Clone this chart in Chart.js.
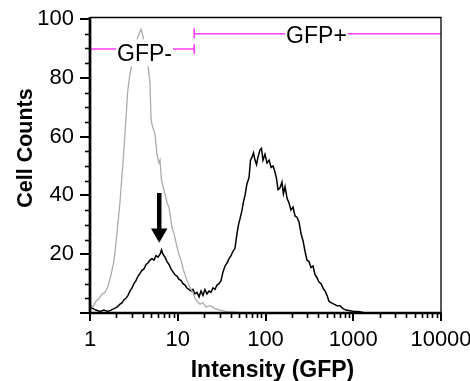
<!DOCTYPE html>
<html><head><meta charset="utf-8">
<script src="https://cdn.jsdelivr.net/npm/chart.js@4/dist/chart.umd.min.js"></script>
<style>html,body{margin:0;padding:0;background:#fff;}#wrap{width:470px;height:381px;}</style>
</head><body><div id="wrap"><canvas id="c" width="470" height="381"></canvas></div>
<script>
// Control (gray) histogram
const grayIntensity = [1.00,1.08,1.17,1.27,1.37,1.48,1.60,1.74,1.88,1.98,2.09,2.20,2.32,2.44,2.57,2.68,2.78,2.93,3.09,3.26,3.43,3.62,3.81,4.02,4.23,4.46,4.64,4.83,4.96,5.09,5.36,5.51,5.80,6.11,6.28,6.53,6.79,7.16,7.54,7.95,8.16,8.60,9.06,9.55,9.81,10.3,10.9,11.5,12.1,12.8,13.4,14.2,14.9,15.7,16.6,17.9,19.4,21.0,23.3,26.6,30.3,36.4,44.9,58.4];
const grayCounts = [3,2,4,5,6.5,7,9,13,18,24,31,38,47,56,66,75,79,83,86,90,93,95,96.5,94,90,85,83,78,66,64,62,60.5,54,51,52,45,43,40.5,37.5,36,34,29,27,24,22.5,20,18,15,13,11,9.5,8,7,5,4,3,3.5,2,2.5,1.5,1,0.5,0.3,0];
// Sample (black) histogram
const blackIntensity = [1.00,1.08,1.17,1.30,1.44,1.60,1.74,1.88,2.03,2.20,2.32,2.44,2.57,2.71,2.86,3.01,3.17,3.34,3.52,3.71,3.91,4.12,4.35,4.58,4.83,5.09,5.36,5.65,5.96,6.28,6.53,6.79,7.15,7.54,7.95,8.38,8.83,9.31,9.81,10.3,10.9,11.5,12.1,12.7,13.4,14.2,14.9,15.7,16.6,17.5,18.4,19.4,20.4,21.5,22.7,23.9,25.2,26.6,28.0,29.5,31.1,32.8,34.6,36.4,38.4,40.5,42.6,44.9,47.3,49.2,51.2,54.0,56.2,58.4,61.5,64.9,67.5,70.2,73.0,75.9,79.0,82.1,86.6,90.0,93.6,98.7,104,110,116,122,128,133,139,146,154,160,167,176,185,195,206,217,229,241,254,268,282,297,313,330,348,367,386,407,429,452,477,502,529,558,603,653,706,764,827,918,1020,1133,1258,1361];
const blackCounts = [2,1.5,1,0.5,1,0.5,1,1.5,2,3,3.5,4.5,5,6,7.5,8.5,10,11,12.5,13.5,14.5,15,16.5,17,18,18.5,18,19.5,19,20,21.5,20,19,17.5,16.5,15,14,13,12.5,11.5,11,10,9.5,8.5,8,7.5,8,6.5,7,5.5,7.5,6,8,6.5,7.5,7,8.5,8,9.5,10,11,14,16,17,18.5,19.5,21,22,27,30,32,35,38,40,44,46,52,53,54.5,52,50.5,53,55.5,56,52,54,51,52,49.5,50,48,46,42,42.5,44.5,40.5,43,39,37.5,35,36,33,32.5,31,27,24.5,21,18,17.5,15.5,16,13,12,10.5,10,8.5,7.5,6,4,3.5,3,2.5,2.5,1.5,1,0.8,0.5,0.5,0.3,0];
// Gates
const gateSplit = 15.4;
const gfpMinusLevel = 89.8;
const gfpPlusLevel = 95.0;
const gfpMinusTick = [88.1, 91.4];
const gfpPlusTick = [93.4, 96.8];
const gateLabels = ['GFP-', 'GFP+'];
const gateLabelX = [4.18, 381];
const gateLabelY = [88.3, 94.4];
// Arrow marker
const arrowX = 6.15;
const arrowShaft = [40.8, 28.5];
const arrowHead = 27.1;
// Axis ticks
const xMin = 1, xMax = 10000;
const yMin = 0, yMax = 100;
const xMajorTicks = [1,10,100,1000,10000];
const xMinorTicks = [2,3,4,5,6,7,8,9,20,30,40,50,60,70,80,90,200,300,400,500,600,700,800,900,2000,3000,4000,5000,6000,7000,8000,9000];
const yMajorTicks = [0,20,40,60,80,100];
const yMinorTicks = [5,10,15,25,30,35,45,50,55,65,70,75,85,90,95];
const xTitle = 'Intensity (GFP)';
const yTitle = 'Cell Counts';

const FONT = "'Liberation Sans', Arial, Helvetica, sans-serif";
const MAGENTA = '#ff3cff';

const pts = (xs, ys) => xs.map((v, i) => ({x: v, y: ys[i]}));

const decor = {
  id: 'decor',
  afterDatasetsDraw(chart) {
    const {ctx, scales: {x, y}} = chart;
    ctx.save();
    ctx.font = '23px ' + FONT;
    ctx.textAlign = 'center';
    ctx.textBaseline = 'alphabetic';
    gateLabels.forEach((t, i) => {
      const px = x.getPixelForValue(gateLabelX[i]);
      const py = y.getPixelForValue(gateLabelY[i]);
      const w = ctx.measureText(t).width;
      ctx.fillStyle = '#fff';
      ctx.fillRect(px - w / 2 - 1, py - 14, w + 2, 27);
      ctx.fillStyle = '#000';
      ctx.fillText(t, px, py + 8);
    });
    ctx.restore();
  },
  afterDraw(chart) {
    const {ctx, chartArea: a, scales: {x, y}} = chart;
    ctx.save();
    ctx.strokeStyle = '#000';
    ctx.lineWidth = 1.3;
    ctx.beginPath();
    ctx.moveTo(a.left, a.top - 1.5); ctx.lineTo(a.right, a.top - 1.5);
    ctx.lineTo(a.right, a.bottom);
    ctx.stroke();
    ctx.lineWidth = 1.6;
    yMinorTicks.forEach(v => {
      const py = Math.round(y.getPixelForValue(v)) + 0.5;
      ctx.beginPath(); ctx.moveTo(a.left - 5, py); ctx.lineTo(a.left, py); ctx.stroke();
    });
    ctx.lineWidth = 2;
    yMajorTicks.forEach(v => {
      const py = Math.round(y.getPixelForValue(v));
      ctx.beginPath(); ctx.moveTo(a.left - 10, py); ctx.lineTo(a.left, py); ctx.stroke();
    });
    ctx.lineWidth = 1.6;
    xMinorTicks.forEach(v => {
      const px = Math.round(x.getPixelForValue(v)) + 0.5;
      ctx.beginPath(); ctx.moveTo(px, a.bottom); ctx.lineTo(px, a.bottom + 5); ctx.stroke();
    });
    ctx.lineWidth = 2;
    xMajorTicks.forEach(v => {
      const px = Math.round(x.getPixelForValue(v));
      ctx.beginPath(); ctx.moveTo(px, a.bottom); ctx.lineTo(px, a.bottom + 8); ctx.stroke();
    });
    ctx.lineWidth = 2.7;
    ctx.beginPath();
    ctx.moveTo(a.left, a.top - 2); ctx.lineTo(a.left, a.bottom);
    ctx.lineTo(a.right + 0.5, a.bottom);
    ctx.stroke();
    ctx.fillStyle = '#000';
    ctx.font = 'bold 23px ' + FONT;
    ctx.textAlign = 'center';
    ctx.textBaseline = 'alphabetic';
    ctx.fillText(xTitle, (a.left + a.right) / 2 + 7, 377);
    ctx.font = 'bold 21.5px ' + FONT;
    ctx.translate(32, 148);
    ctx.rotate(-Math.PI / 2);
    ctx.fillText(yTitle, 0, 0);
    ctx.restore();
  }
};

new Chart(document.getElementById('c'), {
  type: 'line',
  data: {
    datasets: [
      {label: 'Control', data: pts(grayIntensity, grayCounts), borderColor: '#ababab', borderWidth: 1.3, pointRadius: 0, tension: 0, fill: false},
      {label: 'Sample', data: pts(blackIntensity, blackCounts), borderColor: '#000', borderWidth: 1.5, pointRadius: 0, tension: 0, fill: false},
      {label: 'GFP- gate', data: [{x: xMin, y: gfpMinusLevel}, {x: gateSplit, y: gfpMinusLevel}], borderColor: MAGENTA, borderWidth: 1.6, pointRadius: 0},
      {label: 'GFP- end', data: [{x: gateSplit, y: gfpMinusTick[0]}, {x: gateSplit, y: gfpMinusTick[1]}], borderColor: MAGENTA, borderWidth: 1.6, pointRadius: 0},
      {label: 'GFP+ gate', data: [{x: gateSplit, y: gfpPlusLevel}, {x: xMax, y: gfpPlusLevel}], borderColor: MAGENTA, borderWidth: 1.6, pointRadius: 0},
      {label: 'GFP+ start', data: [{x: gateSplit, y: gfpPlusTick[0]}, {x: gateSplit, y: gfpPlusTick[1]}], borderColor: MAGENTA, borderWidth: 1.6, pointRadius: 0},
      {label: 'Arrow', data: [{x: arrowX, y: arrowShaft[0]}, {x: arrowX, y: arrowShaft[1]}], borderColor: '#000', borderWidth: 4.5, pointRadius: 0},
      {label: 'Arrow head', data: [{x: arrowX, y: arrowHead}], showLine: false, pointStyle: 'triangle', rotation: 180, pointRadius: 9.5, backgroundColor: '#000', borderColor: '#000', borderWidth: 0}
    ]
  },
  options: {
    responsive: false,
    animation: false,
    devicePixelRatio: 1,
    layout: {padding: {top: 19, right: 29, left: 0, bottom: 0}},
    plugins: {legend: {display: false}, tooltip: {enabled: false}},
    scales: {
      x: {
        type: 'logarithmic', min: xMin, max: xMax,
        grid: {display: false, drawTicks: false},
        border: {display: false},
        ticks: {
          autoSkip: false, maxRotation: 0, padding: 14, color: '#000',
          font: {family: FONT, size: 22},
          callback: (v) => xMajorTicks.includes(v) ? String(v) : ''
        },
        afterFit: (s) => { s.height = 68; s.paddingLeft = 0; s.paddingRight = 0; }
      },
      y: {
        type: 'linear', min: yMin, max: yMax,
        grid: {display: false, drawTicks: false},
        border: {display: false},
        ticks: {
          stepSize: 20, padding: 16, color: '#000',
          font: {family: FONT, size: 22},
          callback: (v) => v === 0 ? '' : String(v)
        },
        afterFit: (s) => { s.width = 90; s.paddingTop = 0; s.paddingBottom = 0; }
      }
    }
  },
  plugins: [decor]
});
</script>
</body></html>
